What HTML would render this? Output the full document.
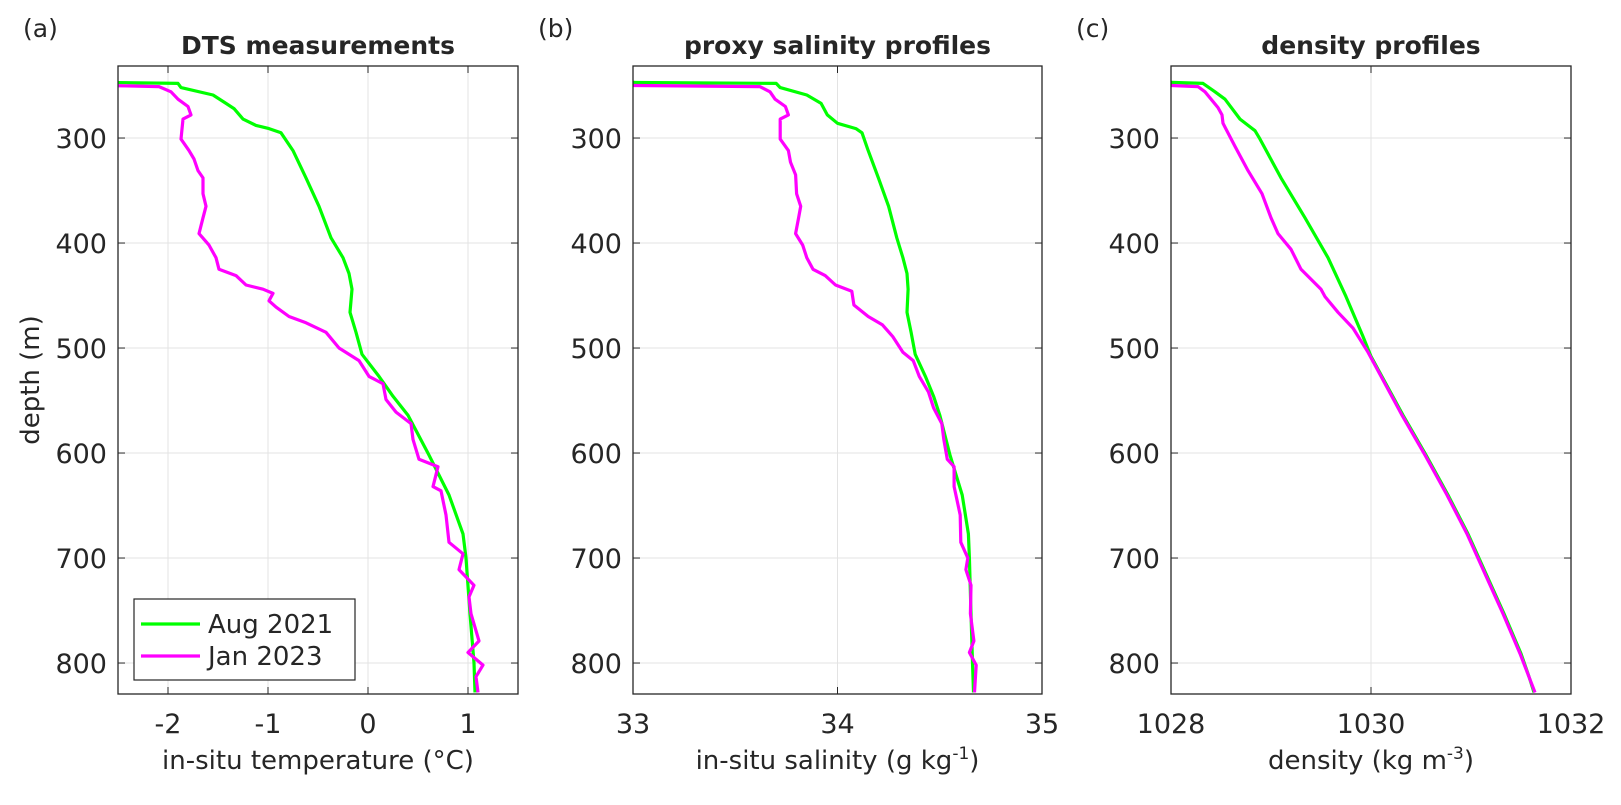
<!DOCTYPE html>
<html><head><meta charset="utf-8"><style>
body{margin:0;background:#fff;}
svg text{font-family:"DejaVu Sans","Liberation Sans",sans-serif;fill:#262626;}
</style></head><body>
<svg id="fig" width="1621" height="800" xmlns="http://www.w3.org/2000/svg"></svg>
<script>
const depthTicks=[300,400,500,600,700,800];
const tempTicks=[-2,-1,0,1];
const salTicks=[33,34,35];
const denTicks=[1028,1030,1032];
const seriesNames=["Aug 2021","Jan 2023"];
const augTempDepth=[247,248,252,259,267,272,282,288,291,295,312,338,365,395,414,429,444,466,485,506,527,546,564,602,640,677,700,753,800,828];
const augTemp=[-2.6,-1.9,-1.87,-1.55,-1.42,-1.34,-1.25,-1.12,-0.99,-0.87,-0.75,-0.62,-0.49,-0.37,-0.25,-0.19,-0.16,-0.18,-0.12,-0.06,0.11,0.25,0.40,0.61,0.81,0.95,0.98,1.02,1.06,1.07];
const janTempDepth=[250,251,256,263,270,278,282,301,312,320,331,338,353,365,376,391,402,414,425,431,440,444,448,455,461,470,476,485,500,512,527,534,549,561,572,587,606,613,632,636,659,685,696,711,726,737,753,779,790,802,813,828];
const janTemp=[-2.6,-2.09,-1.97,-1.90,-1.80,-1.77,-1.85,-1.87,-1.79,-1.74,-1.70,-1.65,-1.65,-1.62,-1.65,-1.69,-1.59,-1.52,-1.49,-1.32,-1.22,-1.05,-0.95,-0.99,-0.92,-0.79,-0.62,-0.42,-0.29,-0.09,0.01,0.15,0.18,0.28,0.43,0.45,0.51,0.70,0.65,0.73,0.78,0.81,0.95,0.91,1.06,1.01,1.03,1.11,1.00,1.15,1.08,1.10];
const augSalDepth=[247,248,252,259,267,278,286,291,295,312,338,365,395,414,429,444,466,485,506,527,546,564,602,640,677,700,753,800,828];
const augSal=[33.0,33.70,33.72,33.85,33.92,33.95,34.00,34.09,34.12,34.15,34.20,34.25,34.29,34.32,34.34,34.345,34.34,34.36,34.38,34.43,34.47,34.50,34.55,34.61,34.64,34.645,34.653,34.66,34.665];
const janSalDepth=[250,251,256,263,270,278,282,301,312,323,335,353,365,376,391,402,414,425,431,440,446,459,470,478,489,504,512,527,542,557,572,587,606,613,632,659,685,700,711,726,753,779,790,802,828];
const janSal=[33.0,33.62,33.67,33.695,33.745,33.76,33.72,33.72,33.76,33.77,33.795,33.80,33.82,33.81,33.795,33.83,33.85,33.88,33.94,33.99,34.07,34.08,34.15,34.22,34.27,34.32,34.37,34.40,34.445,34.47,34.51,34.52,34.537,34.57,34.57,34.60,34.603,34.637,34.628,34.653,34.65,34.667,34.645,34.678,34.67];
const augDenDepth=[247,248,256,263,282,293,301,338,376,414,451,489,508,564,602,640,677,715,753,791,813,828];
const augDen=[1028.0,1028.32,1028.44,1028.54,1028.69,1028.84,1028.89,1029.10,1029.34,1029.57,1029.75,1029.92,1030.00,1030.32,1030.55,1030.77,1030.97,1031.15,1031.33,1031.50,1031.58,1031.63];
const janDenDepth=[250,251,256,271,278,286,308,331,353,376,391,406,425,444,451,466,481,504,564,602,640,677,715,753,791,828];
const janDen=[1028.0,1028.27,1028.34,1028.47,1028.51,1028.52,1028.64,1028.77,1028.91,1029.00,1029.07,1029.20,1029.30,1029.50,1029.54,1029.67,1029.82,1029.97,1030.31,1030.54,1030.76,1030.96,1031.14,1031.32,1031.49,1031.64];

const NS="http://www.w3.org/2000/svg";
const svg=document.getElementById('fig');
function mk(tag,attrs,parent){const e=document.createElementNS(NS,tag);for(const k in attrs)e.setAttribute(k,attrs[k]);(parent||svg).appendChild(e);return e;}
const Y0=66,Y1=694,DMIN=231.4,DMAX=829.5;
function yS(d){return Y0+(d-DMIN)/(DMAX-DMIN)*(Y1-Y0);}

function panel(key,x0,x1,xmin,xmax,xt,title,letter,xlabelParts,series){
  const g=mk('g',{});
  
  
  const xS=v=>x0+(v-xmin)/(xmax-xmin)*(x1-x0);
  const cp=mk('clipPath',{id:'clip-'+key},g);
  mk('rect',{x:x0,y:Y0,width:x1-x0,height:Y1-Y0},cp);
  depthTicks.forEach(d=>{const l=mk('line',{x1:x0,x2:x1,y1:yS(d),y2:yS(d),stroke:'#e3e3e3','stroke-width':1},g);
    
    });
  xt.forEach(v=>{const l=mk('line',{x1:xS(v),x2:xS(v),y1:Y0,y2:Y1,stroke:'#e3e3e3','stroke-width':1},g);
    
    });
  series.forEach(s=>{
    const pts=s.d.map((d,i)=>xS(s.v[i]).toFixed(1)+','+yS(d).toFixed(1)).join(' ');
    const p=mk('polyline',{points:pts,fill:'none',stroke:s.c,'stroke-width':3.2,'stroke-linejoin':'round','clip-path':'url(#clip-'+key+')'},g);
    
    
  });
  const b=mk('rect',{x:x0,y:Y0,width:x1-x0,height:Y1-Y0,fill:'none',stroke:'#262626','stroke-width':1.3},g);
  
  
  depthTicks.forEach(d=>{
    mk('line',{x1:x0,x2:x0+7,y1:yS(d),y2:yS(d),stroke:'#262626'},g);
    mk('line',{x1:x1,x2:x1-7,y1:yS(d),y2:yS(d),stroke:'#262626'},g);
    const t=mk('text',{x:x0-11,y:yS(d)+10,'text-anchor':'end','font-size':27},g);t.textContent=d;
    
    
  });
  xt.forEach(v=>{
    mk('line',{x1:xS(v),x2:xS(v),y1:Y1,y2:Y1-7,stroke:'#262626'},g);
    mk('line',{x1:xS(v),x2:xS(v),y1:Y0,y2:Y0+7,stroke:'#262626'},g);
    const t=mk('text',{x:xS(v),y:733,'text-anchor':'middle','font-size':27},g);t.textContent=String(v);
    
    
  });
  const tt=mk('text',{x:(x0+x1)/2,y:54,'text-anchor':'middle','font-size':25,'font-weight':'bold'},g);tt.textContent=title;
  
  
  const lt=mk('text',{x:x0-95,y:37,'font-size':25},g);lt.textContent=letter;
  
  
  const xl=mk('text',{x:(x0+x1)/2,y:769,'text-anchor':'middle','font-size':26},g);
  
  
  xlabelParts.forEach(p=>{const ts=mk('tspan',p.sup?{'font-size':17,dy:-10}:(p.after?{dy:10}:{}),xl);ts.textContent=p.t;});
  return xS;
}
panel('a',118,518,-2.5,1.5,tempTicks,'DTS measurements','(a)',[{t:'in-situ temperature (°C)'}],
 [{d:augTempDepth,v:augTemp,c:'#00ff00',name:'aug-2021-temperature-line'},{d:janTempDepth,v:janTemp,c:'#ff00ff',name:'jan-2023-temperature-line'}]);
panel('b',633,1042,33,35,salTicks,'proxy salinity profiles','(b)',[{t:'in-situ salinity (g kg'},{t:'-1',sup:true},{t:')',after:true}],
 [{d:augSalDepth,v:augSal,c:'#00ff00',name:'aug-2021-salinity-line'},{d:janSalDepth,v:janSal,c:'#ff00ff',name:'jan-2023-salinity-line'}]);
panel('c',1171,1571,1028,1032,denTicks,'density profiles','(c)',[{t:'density (kg m'},{t:'-3',sup:true},{t:')',after:true}],
 [{d:augDenDepth,v:augDen,c:'#00ff00',name:'aug-2021-density-line'},{d:janDenDepth,v:janDen,c:'#ff00ff',name:'jan-2023-density-line'}]);
const yl=mk('text',{x:0,y:0,'text-anchor':'middle','font-size':26,transform:'translate(39,380) rotate(-90)'});
yl.textContent='depth (m)';


const lg=mk('g',{});


mk('rect',{x:134,y:599,width:221,height:81,fill:'#fff',stroke:'#262626','stroke-width':1.2},lg);
const legColors=['#00ff00','#ff00ff'];
seriesNames.forEach((n,i)=>{
  const y=624+i*32;
  const e=mk('g',{},lg);
  
  
  mk('line',{x1:141,x2:200,y1:y,y2:y,stroke:legColors[i],'stroke-width':3.2},e);
  const t=mk('text',{x:208,y:y+9,'font-size':26},e);t.textContent=n;
});
</script>
</body></html>
